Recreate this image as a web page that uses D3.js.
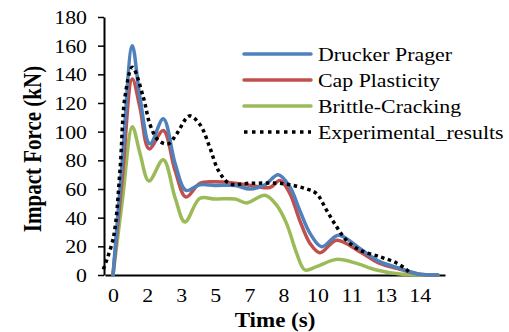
<!DOCTYPE html>
<html>
<head>
<meta charset="utf-8">
<script src="https://cdn.jsdelivr.net/npm/d3@7"></script>
<style>
  html, body { margin: 0; padding: 0; background: #fff; }
  svg { display: block; }
</style>
</head>
<body>
<div id="chart"></div>
<script>
// ---- data (time axis positions are category slots; labels below) ----
const xTickLabels = ["0", "2", "3", "5", "7", "8", "10", "11", "13", "14"];
const yTicks = [0, 20, 40, 60, 80, 100, 120, 140, 160, 180];
const seriesNames = ["Drucker Prager", "Cap Plasticity", "Brittle-Cracking", "Experimental_results"];
const seriesColors = ["#4F81BD", "#C0504D", "#9BBB59", "#000000"];

const druckerPrager = [[0,0],[0.28,82],[0.566,160],[0.79,124],[1.085,91.5],[1.475,109],[1.82,78],[2.14,59],[2.55,63],[2.99,62.5],[3.58,62.5],[4.02,60],[4.46,63],[4.85,70],[5.19,61.4],[5.48,45],[5.78,29],[6.12,19.7],[6.61,27.8],[7.24,18.5],[7.83,9.3],[8.42,4.6],[9.0,0.5],[9.53,0]];
const capPlasticity = [[0,0],[0.28,70],[0.566,136.7],[0.79,117],[1.06,88],[1.475,100.8],[1.82,73],[2.14,54.4],[2.55,64],[2.99,65],[3.58,64],[4.16,62],[4.6,61],[4.9,66],[5.19,56.8],[5.48,38],[5.78,22],[6.07,15.5],[6.56,24.3],[7.24,16.2],[7.83,8.1],[8.42,4],[9.0,0.5],[9.53,0]];
const brittleCracking = [[0,0],[0.28,53],[0.566,103.5],[0.79,85],[1.056,65.6],[1.475,80.4],[1.82,54],[2.11,37],[2.55,53.5],[2.99,53],[3.58,53],[3.92,50.3],[4.46,55.6],[4.8,48.7],[5.09,36],[5.39,15],[5.63,3.5],[5.97,5.8],[6.56,10.9],[7.15,8.1],[7.73,3.5],[8.42,0.7],[9.53,0]];
const experimental = [[-0.284,4],[0.01,26],[0.205,73],[0.35,124],[0.566,145],[0.89,124],[1.085,105],[1.33,94],[1.62,91.5],[1.87,98.5],[2.24,111],[2.55,105],[2.84,89],[3.09,73],[3.43,63.7],[4.02,64],[5.0,63.7],[5.68,60],[5.97,56.8],[6.27,45],[6.56,33.6],[6.85,24.3],[7.24,17.4],[7.83,12.7],[8.32,8.4],[8.63,3.3],[8.72,1]];

const allSeries = [druckerPrager, capPlasticity, brittleCracking, experimental];

// ---- layout ----
const W = 509, H = 332;
const SX = 1.15; // horizontal stretch of the reference text
const FONT = "'Liberation Serif', 'Times New Roman', serif";

const svg = d3.select("#chart").append("svg")
  .attr("width", W).attr("height", H)
  .attr("font-family", FONT);

const x = d3.scaleLinear().domain([-0.235, 9.74]).range([105, 445]);
const y = d3.scaleLinear().domain([0, 180]).range([275, 17]);

// y axis
const yAxis = svg.append("g")
  .attr("transform", "translate(104,0)")
  .call(d3.axisLeft(y).tickValues(yTicks).tickSizeInner(6).tickSizeOuter(0))
  .attr("font-family", FONT).attr("font-size", 19);
yAxis.select(".domain").attr("stroke", "#000").attr("stroke-width", 2);
yAxis.selectAll(".tick line").attr("stroke", "#000").attr("stroke-width", 1.5);
yAxis.selectAll(".tick text")
  .attr("x", null).attr("dy", null)
  .attr("transform", `translate(-17,6.5) scale(${SX},1)`)
  .style("font-family", FONT).style("font-size", "19px").attr("fill", "#000");

// x axis
const xAxis = svg.append("g")
  .attr("transform", "translate(0,275)")
  .call(d3.axisBottom(x).tickValues(d3.range(xTickLabels.length))
    .tickFormat((d, i) => xTickLabels[i]).tickSizeInner(0).tickSizeOuter(0))
  .attr("font-family", FONT).attr("font-size", 19);
xAxis.select(".domain").attr("stroke", "#000").attr("stroke-width", 2);
xAxis.selectAll(".tick line").remove();
xAxis.selectAll(".tick text")
  .attr("y", null).attr("dy", null)
  .attr("transform", `translate(0,27) scale(${SX},1)`)
  .style("font-family", FONT).style("font-size", "19px").attr("fill", "#000");

// lines
const line = d3.line()
  .x(d => x(d[0])).y(d => y(d[1]))
  .curve(d3.curveCatmullRom.alpha(0.5));

[2, 1, 0, 3].forEach(i => {
  const p = svg.append("path")
    .datum(allSeries[i])
    .attr("d", line)
    .attr("fill", "none")
    .attr("stroke", seriesColors[i])
    .attr("stroke-width", 3.5)
    .attr("stroke-linejoin", "round");
  if (i === 3) p.attr("stroke-dasharray", "3.5,3.5");
  else p.attr("stroke-linecap", "round");
});

// legend
const legendRows = [54, 80, 106, 132];
const lg = svg.append("g");
seriesNames.forEach((name, i) => {
  const l = lg.append("line")
    .attr("x1", 244).attr("x2", 311)
    .attr("y1", legendRows[i]).attr("y2", legendRows[i])
    .attr("stroke", seriesColors[i]).attr("stroke-width", 3.5);
  if (i === 3) l.attr("stroke-dasharray", "3.5,4.5");
  else l.attr("stroke-linecap", "round");
  lg.append("text")
    .attr("transform", `translate(318,${legendRows[i] + 7}) scale(${SX},1)`)
    .style("font-family", FONT).style("font-size", "19px").attr("fill", "#000")
    .text(name);
});

// axis titles
svg.append("text")
  .attr("transform", `translate(41,149) scale(${SX},1) rotate(-90)`)
  .attr("text-anchor", "middle")
  .style("font-family", FONT).style("font-size", "21px").style("font-weight", "bold")
  .text("Impact Force (kN)");

svg.append("text")
  .attr("transform", `translate(275,327) scale(${SX},1)`)
  .attr("text-anchor", "middle")
  .style("font-family", FONT).style("font-size", "20px").style("font-weight", "bold")
  .text("Time (s)");
</script>
</body>
</html>
